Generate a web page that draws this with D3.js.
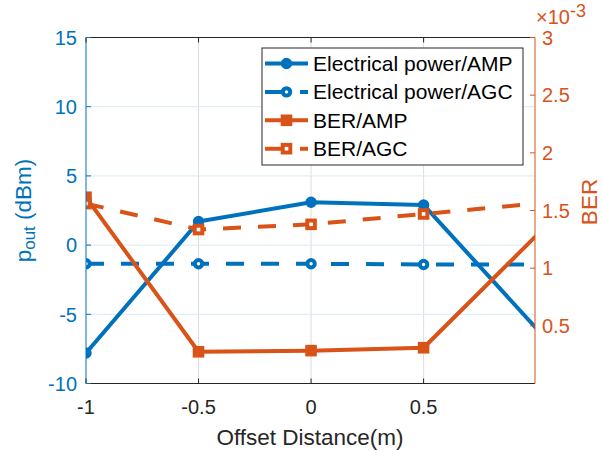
<!DOCTYPE html>
<html>
<head>
<meta charset="utf-8">
<script src="https://cdn.jsdelivr.net/npm/d3@7"></script>
<style>
  html, body { margin: 0; padding: 0; background: #fff; }
  svg { display: block; }
  text { font-family: "Liberation Sans", Arial, Helvetica, sans-serif; }
</style>
</head>
<body>
<svg id="chart" width="602" height="451"></svg>
<script>
// Offset distance (m)
const offsets = [-1, -0.5, 0, 0.5, 1];
// Received electrical power (dBm)
const powerAMP = [-7.8, 1.7, 3.1, 2.9, -6.0];
const powerAGC = [-1.35, -1.35, -1.35, -1.4, -1.4];
// Bit error rate
const berAMP = [1.615e-3, 0.275e-3, 0.285e-3, 0.31e-3, 1.28e-3];
const berAGC = [1.56e-3, 1.335e-3, 1.38e-3, 1.47e-3, 1.56e-3];

const xTicks = [-1, -0.5, 0, 0.5];
const leftTicks = [-10, -5, 0, 5, 10, 15];
const rightTicks = [0.5e-3, 1e-3, 1.5e-3, 2e-3, 2.5e-3, 3e-3];
const legendLabels = ["Electrical power/AMP", "Electrical power/AGC", "BER/AMP", "BER/AGC"];

const BLUE = "#0072BD", ORANGE = "#D95319", DARK = "#262626";

const svg = d3.select("#chart");
const L = 86, R = 535, T = 37.5, B = 383.5;

const x = d3.scaleLinear().domain([-1, 0.995]).range([L, R]);
const yL = d3.scaleLinear().domain([-10, 15]).range([B, T]);
const yR = d3.scaleLinear().domain([0, 3e-3]).range([B, T]);

// clip region for plotted data
svg.append("defs").append("clipPath").attr("id", "plotClip")
  .append("rect").attr("x", L).attr("y", T).attr("width", R - L).attr("height", B - T);

// grid
const grid = svg.append("g");
grid.selectAll("line.gx").data(xTicks.filter(d => d > -1)).join("line")
  .attr("x1", d => x(d)).attr("x2", d => x(d)).attr("y1", T).attr("y2", B)
  .attr("stroke", "#dedede").attr("stroke-width", 1);
grid.selectAll("line.gy").data(leftTicks.filter(d => d > -10 && d < 15)).join("line")
  .attr("x1", L).attr("x2", R).attr("y1", d => yL(d)).attr("y2", d => yL(d))
  .attr("stroke", "#d9eaf5").attr("stroke-width", 1);

// data
const plot = svg.append("g").attr("clip-path", "url(#plotClip)");
const series = [
  { vals: powerAMP, y: yL, color: BLUE, dash: null, marker: "circle", hollow: false },
  { vals: powerAGC, y: yL, color: BLUE, dash: "18,17", marker: "circle", hollow: true },
  { vals: berAMP, y: yR, color: ORANGE, dash: null, marker: "square", hollow: false },
  { vals: berAGC, y: yR, color: ORANGE, dash: "18,17", marker: "square", hollow: true }
];
const LW = 4;

function drawMarker(g, s, cx, cy) {
  if (s.marker === "circle") {
    g.append("circle").attr("cx", cx).attr("cy", cy).attr("r", 3.7)
      .attr("fill", s.hollow ? "#fff" : s.color).attr("stroke", s.color).attr("stroke-width", LW);
  } else {
    const h = 3.8;
    g.append("rect").attr("x", cx - h).attr("y", cy - h).attr("width", 2 * h).attr("height", 2 * h)
      .attr("fill", s.hollow ? "#fff" : s.color).attr("stroke", s.color).attr("stroke-width", LW);
  }
}

series.forEach(s => {
  const pts = offsets.map((o, i) => [x(o), s.y(s.vals[i])]);
  plot.append("path").attr("d", d3.line()(pts))
    .attr("fill", "none").attr("stroke", s.color).attr("stroke-width", LW)
    .attr("stroke-dasharray", s.dash).attr("stroke-linejoin", "round");
});
// markers are only drawn for points inside the x-limits
series.forEach(s => {
  offsets.forEach((o, i) => {
    if (o <= x.domain()[1]) drawMarker(plot, s, x(o), s.y(s.vals[i]));
  });
});

// axes frame
svg.append("line").attr("x1", L).attr("x2", R).attr("y1", T).attr("y2", T).attr("stroke", DARK).attr("stroke-width", 1);
svg.append("line").attr("x1", L).attr("x2", R).attr("y1", B).attr("y2", B).attr("stroke", DARK).attr("stroke-width", 1);
svg.append("line").attr("x1", L).attr("x2", L).attr("y1", T).attr("y2", B).attr("stroke", BLUE).attr("stroke-width", 1);
svg.append("line").attr("x1", R).attr("x2", R).attr("y1", T).attr("y2", B).attr("stroke", ORANGE).attr("stroke-width", 1);

const TL = 5;
// x ticks (bottom and top, pointing inward)
svg.append("g").selectAll("line").data(xTicks).join("line")
  .attr("x1", d => x(d)).attr("x2", d => x(d)).attr("y1", B).attr("y2", B - TL).attr("stroke", DARK);
svg.append("g").selectAll("line").data(xTicks).join("line")
  .attr("x1", d => x(d)).attr("x2", d => x(d)).attr("y1", T).attr("y2", T + TL).attr("stroke", DARK);
svg.append("g").selectAll("text").data(xTicks).join("text")
  .attr("x", d => x(d)).attr("y", 414).attr("text-anchor", "middle")
  .attr("font-size", 20).attr("fill", DARK).text(d => String(d));

// left ticks
svg.append("g").selectAll("line").data(leftTicks).join("line")
  .attr("x1", L).attr("x2", L + TL).attr("y1", d => yL(d)).attr("y2", d => yL(d)).attr("stroke", BLUE);
svg.append("g").selectAll("text").data(leftTicks).join("text")
  .attr("x", 77).attr("y", d => yL(d)).attr("dy", "0.36em").attr("text-anchor", "end")
  .attr("font-size", 20).attr("fill", BLUE).text(d => String(d));

// right ticks
svg.append("g").selectAll("line").data(rightTicks).join("line")
  .attr("x1", R).attr("x2", R - TL).attr("y1", d => yR(d)).attr("y2", d => yR(d)).attr("stroke", ORANGE);
svg.append("g").selectAll("text").data(rightTicks).join("text")
  .attr("x", 542).attr("y", d => yR(d)).attr("dy", "0.36em").attr("text-anchor", "start")
  .attr("font-size", 20).attr("fill", ORANGE).text(d => String(+(d * 1e3).toFixed(1)));

// exponent label
const ex = svg.append("text").attr("x", 536).attr("y", 24).attr("fill", ORANGE).attr("font-size", 20);
ex.append("tspan").text("×10");
ex.append("tspan").attr("font-size", 18).attr("dy", -7).text("-3");

// axis labels
svg.append("text").attr("x", 310).attr("y", 445).attr("text-anchor", "middle")
  .attr("font-size", 22.5).attr("fill", DARK).text("Offset Distance(m)");

const yl = svg.append("text").attr("transform", `translate(31,${(T + B) / 2}) rotate(-90)`)
  .attr("text-anchor", "middle").attr("font-size", 22.5).attr("fill", BLUE);
yl.append("tspan").text("p");
yl.append("tspan").attr("font-size", 17).attr("dy", 4).text("out");
yl.append("tspan").attr("dy", -4).text(" (dBm)");

svg.append("text").attr("transform", `translate(597,202) rotate(-90)`)
  .attr("text-anchor", "middle").attr("font-size", 22.5).attr("fill", ORANGE).text("BER");

// legend
const lg = svg.append("g");
lg.append("rect").attr("x", 262).attr("y", 48).attr("width", 261).attr("height", 117)
  .attr("fill", "#fff").attr("stroke", DARK).attr("stroke-width", 1);
series.forEach((s, i) => {
  const cy = 63.5 + i * 28.4;
  lg.append("line").attr("x1", 265).attr("x2", 308).attr("y1", cy).attr("y2", cy)
    .attr("stroke", s.color).attr("stroke-width", LW).attr("stroke-dasharray", s.dash);
  drawMarker(lg, s, 286.5, cy);
  lg.append("text").attr("x", 313).attr("y", cy).attr("dy", "0.36em")
    .attr("font-size", 21).attr("fill", "#000").text(legendLabels[i]);
});
</script>
</body>
</html>
